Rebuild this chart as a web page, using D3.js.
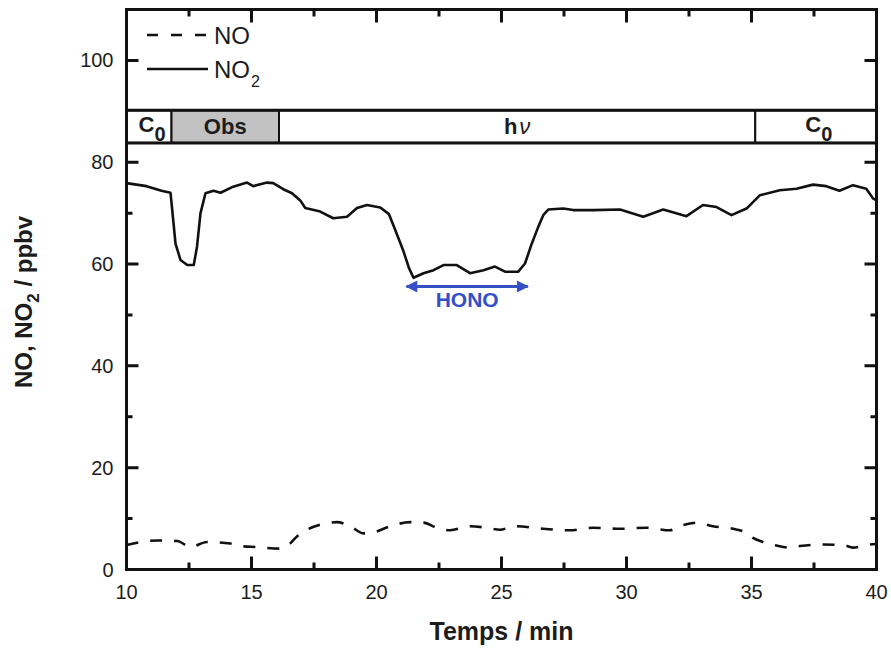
<!DOCTYPE html>
<html>
<head>
<meta charset="utf-8">
<script src="https://cdn.jsdelivr.net/npm/d3@7"></script>
<style>
  html, body { margin: 0; padding: 0; background: #fff; }
  svg { display: block; font-family: "Liberation Sans", Arial, sans-serif; }
</style>
</head>
<body>
<svg id="chart" width="891" height="651"></svg>
<script>
// ---- data ----
const no2Time = [10.0, 10.8, 11.4, 11.76, 11.83, 11.96, 12.16, 12.43, 12.69, 12.82, 12.96, 13.16, 13.48, 13.76, 14.27, 14.82, 15.07, 15.62, 15.87, 16.27, 16.62, 16.95, 17.15, 17.75, 18.27, 18.82, 19.22, 19.62, 20.15, 20.5, 20.82, 21.08, 21.3, 21.48, 21.88, 22.28, 22.68, 23.21, 23.74, 24.28, 24.74, 25.14, 25.67, 25.94, 26.21, 26.47, 26.67, 26.87, 27.47, 27.87, 28.67, 29.74, 30.67, 31.47, 32.4, 33.06, 33.6, 34.2, 34.8, 35.33, 36.13, 36.8, 37.46, 37.99, 38.52, 39.06, 39.59, 39.86, 40.0];
const no2Value = [75.9, 75.3, 74.4, 74.0, 70.6, 64.0, 60.8, 59.8, 59.8, 63.4, 70.0, 73.9, 74.4, 74.0, 75.2, 76.0, 75.3, 76.0, 75.9, 74.7, 73.9, 72.5, 71.0, 70.3, 69.0, 69.3, 71.0, 71.6, 71.1, 69.8, 65.8, 62.5, 59.2, 57.3, 58.2, 58.8, 59.8, 59.8, 58.2, 58.8, 59.5, 58.5, 58.5, 60.1, 64.0, 67.3, 69.6, 70.7, 70.9, 70.6, 70.6, 70.7, 69.3, 70.7, 69.4, 71.6, 71.2, 69.6, 70.9, 73.5, 74.5, 74.8, 75.6, 75.3, 74.4, 75.5, 74.8, 72.9, 72.5];

const noTime = [10.0, 11.23, 12.03, 12.56, 13.22, 14.16, 14.55, 15.22, 16.15, 16.42, 16.82, 17.22, 17.75, 18.42, 18.95, 19.48, 19.88, 20.55, 21.35, 21.88, 22.41, 22.94, 23.74, 24.41, 24.94, 25.5, 26.67, 27.74, 28.67, 29.74, 30.8, 31.73, 32.13, 32.8, 33.46, 34.26, 34.8, 35.06, 35.46, 36.0, 36.53, 36.93, 37.73, 38.66, 39.06, 39.72, 40.0];
const noValue = [4.8, 5.7, 5.6, 4.4, 5.4, 5.1, 4.6, 4.4, 4.1, 4.6, 6.5, 7.8, 8.8, 9.3, 8.5, 7.1, 7.3, 8.5, 9.3, 9.2, 8.2, 7.7, 8.5, 8.2, 7.8, 8.5, 8.0, 7.7, 8.2, 8.0, 8.2, 7.7, 8.5, 9.2, 8.5, 8.0, 7.2, 6.2, 5.4, 4.7, 4.3, 4.6, 4.9, 4.8, 4.3, 4.9, 5.0];

// phase bands
const phaseStart = [10, 11.8, 16.1, 35.15];
const phaseEnd   = [11.8, 16.1, 35.15, 40];
const phaseLabel = ["C0", "Obs", "hν", "C0"];
const phaseShaded = [false, true, false, false];
const phaseLow = 83.8, phaseHigh = 90.2;

// HONO annotation span
const honoStart = 21.2, honoEnd = 26.05, honoLevel = 55.6;

// axes
const xTicksMajor = [10, 15, 20, 25, 30, 35, 40];
const xTicksMinor = [12.5, 17.5, 22.5, 27.5, 32.5, 37.5];
const yTicksLabeled = [0, 20, 40, 60, 80, 100];
const yTicksMinor = [10, 30, 50, 70];
const xDomain = [10, 40], yDomain = [0, 110];

// ---- layout ----
const svg = d3.select("#chart");
const L = 126.5, R = 876.5, T = 9.5, B = 569.5;
const x = d3.scaleLinear().domain(xDomain).range([L, R]);
const y = d3.scaleLinear().domain(yDomain).range([B, T]);
const ink = "#111111";
const txt = "#1c1c1c";

const defs = svg.append("defs");
defs.append("clipPath").attr("id", "clip")
  .append("rect").attr("x", L).attr("y", T).attr("width", R - L).attr("height", B - T);

// phase band boxes
const bandG = svg.append("g");
phaseStart.forEach((s, i) => {
  bandG.append("rect")
    .attr("x", x(s)).attr("y", y(phaseHigh))
    .attr("width", x(phaseEnd[i]) - x(s)).attr("height", y(phaseLow) - y(phaseHigh))
    .attr("fill", phaseShaded[i] ? "#c2c2c2" : "#fff")
    .attr("stroke", ink).attr("stroke-width", 2);
});
[phaseHigh, phaseLow].forEach(v => {
  bandG.append("line").attr("x1", L).attr("x2", R).attr("y1", y(v)).attr("y2", y(v))
    .attr("stroke", ink).attr("stroke-width", 3);
});
phaseStart.forEach((s, i) => {
  const cx = (x(s) + x(phaseEnd[i])) / 2;
  const base = (y(phaseLow) + y(phaseHigh)) / 2 + 7;
  const lab = phaseLabel[i];
  const t = bandG.append("text").attr("text-anchor", "middle")
    .attr("x", cx + (lab === "C0" ? 3 : 0)).attr("y", base)
    .attr("font-size", 22).attr("font-weight", "bold").attr("fill", txt);
  if (lab === "C0") {
    t.append("tspan").text("C").attr("dy", -2);
    t.append("tspan").text("0").attr("dy", 9).attr("font-size", 20);
  } else if (lab === "hν") {
    t.append("tspan").text("h");
    t.append("tspan").text("ν").attr("font-style", "italic").attr("font-weight", "normal").attr("dx", 2);
  } else {
    t.text(lab);
  }
});

// lines
const lineG = svg.append("g").attr("clip-path", "url(#clip)");
const no2Data = no2Time.map((t, i) => [t, no2Value[i]]);
const noData = noTime.map((t, i) => [t, noValue[i]]);
lineG.append("path").datum(no2Data)
  .attr("d", d3.line().x(d => x(d[0])).y(d => y(d[1])))
  .attr("fill", "none").attr("stroke", ink).attr("stroke-width", 2.6)
  .attr("stroke-linejoin", "round");
lineG.append("path").datum(noData)
  .attr("d", d3.line().curve(d3.curveMonotoneX).x(d => x(d[0])).y(d => y(d[1])))
  .attr("fill", "none").attr("stroke", ink).attr("stroke-width", 2.6)
  .attr("stroke-dasharray", "12,12");

// HONO arrow
const blue = "#3550c4";
["start", "end"].forEach(k => {
  defs.append("marker").attr("id", "arr-" + k)
    .attr("viewBox", "0 0 10 10").attr("refX", 9).attr("refY", 5)
    .attr("markerWidth", 5).attr("markerHeight", 4).attr("markerUnits", "strokeWidth")
    .attr("orient", "auto-start-reverse")
    .append("path").attr("d", "M0,0 L10,5 L0,10 z").attr("fill", blue);
});
svg.append("line")
  .attr("x1", x(honoStart)).attr("x2", x(honoEnd))
  .attr("y1", y(honoLevel)).attr("y2", y(honoLevel))
  .attr("stroke", blue).attr("stroke-width", 3)
  .attr("marker-start", "url(#arr-start)").attr("marker-end", "url(#arr-end)");
svg.append("text").attr("x", (x(honoStart) + x(honoEnd)) / 2).attr("y", y(honoLevel) + 21)
  .attr("text-anchor", "middle").attr("font-size", 21).attr("font-weight", "bold")
  .attr("fill", blue).text("HONO");

// tick labels
const fmt = d3.format("d");
svg.append("g").selectAll("text").data(xTicksMajor).join("text")
  .attr("x", d => x(d)).attr("y", B + 29).attr("text-anchor", "middle")
  .attr("font-size", 20).attr("fill", txt).text(fmt);
svg.append("g").selectAll("text").data(yTicksLabeled).join("text")
  .attr("x", L - 13).attr("y", d => y(d) + 7).attr("text-anchor", "end")
  .attr("font-size", 20).attr("fill", txt).text(fmt);

// frame
svg.append("rect").attr("x", L).attr("y", T).attr("width", R - L).attr("height", B - T)
  .attr("fill", "none").attr("stroke", ink).attr("stroke-width", 3);

// ticks (inward), built from the scales
const tickSegs = [];
xTicksMajor.forEach(v => { tickSegs.push([x(v), B, x(v), B - 13], [x(v), T, x(v), T + 13]); });
xTicksMinor.forEach(v => { tickSegs.push([x(v), B, x(v), B - 7], [x(v), T, x(v), T + 7]); });
yTicksLabeled.forEach(v => { tickSegs.push([L, y(v), L + 12, y(v)], [R, y(v), R - 12, y(v)]); });
yTicksMinor.forEach(v => { tickSegs.push([L, y(v), L + 6, y(v)], [R, y(v), R - 6, y(v)]); });
svg.append("path")
  .attr("d", tickSegs.map(s => `M${s[0]},${s[1]}L${s[2]},${s[3]}`).join(""))
  .attr("fill", "none").attr("stroke", ink).attr("stroke-width", 3);

// legend
const legG = svg.append("g");
legG.append("line").attr("x1", 147).attr("x2", 208).attr("y1", 35).attr("y2", 35)
  .attr("stroke", ink).attr("stroke-width", 2.6).attr("stroke-dasharray", "11,13");
legG.append("text").attr("x", 214).attr("y", 44).attr("font-size", 24).attr("fill", txt).text("NO");
legG.append("line").attr("x1", 147).attr("x2", 208).attr("y1", 69).attr("y2", 69)
  .attr("stroke", ink).attr("stroke-width", 2.6);
const l2 = legG.append("text").attr("x", 214).attr("y", 78).attr("font-size", 24).attr("fill", txt);
l2.append("tspan").text("NO");
l2.append("tspan").text("2").attr("font-size", 16).attr("dy", 9).attr("dx", 1);

// axis titles
svg.append("text").attr("x", (L + R) / 2).attr("y", 640).attr("text-anchor", "middle")
  .attr("font-size", 25).attr("font-weight", "bold").attr("fill", txt).text("Temps / min");
const yt = svg.append("text").attr("transform", `translate(32,${302}) rotate(-90)`)
  .attr("text-anchor", "middle").attr("font-size", 24).attr("font-weight", "bold").attr("fill", txt);
yt.append("tspan").text("NO, NO");
yt.append("tspan").text("2").attr("font-size", 17).attr("dy", 7);
yt.append("tspan").text(" / ppbv").attr("dy", -7);
</script>
</body>
</html>
